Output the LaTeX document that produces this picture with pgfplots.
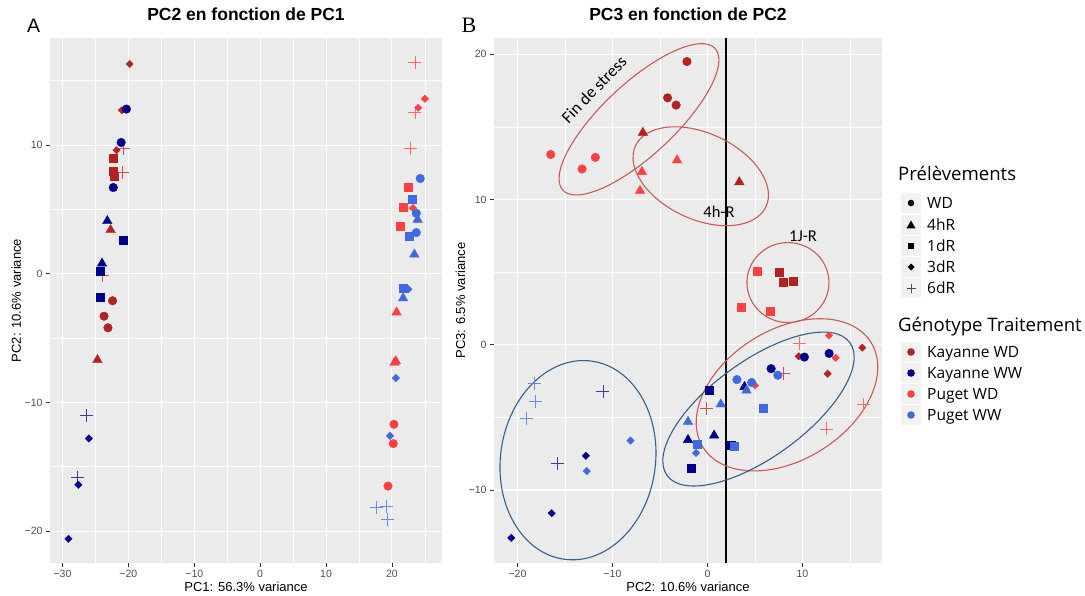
\documentclass[border=0pt]{standalone}
\usepackage{pgfplots}
\pgfplotsset{compat=1.18}
\usepackage{fontspec}
\setmainfont{Liberation Sans}
\newfontfamily\arial{Liberation Sans}
\newfontfamily\calibri{Carlito}
\newfontfamily\legfont{Open Sans}
\newfontfamily\serifB{Liberation Serif}

\definecolor{kwd}{HTML}{B22222}
\definecolor{kww}{HTML}{00008B}
\definecolor{pwd}{HTML}{FF4040}
\definecolor{pww}{HTML}{4169E1}
\definecolor{panelbg}{HTML}{EBEBEB}
\definecolor{ticktxt}{HTML}{4D4D4D}
\definecolor{tickcol}{HTML}{333333}
\definecolor{ellred}{HTML}{C85A57}
\definecolor{ellblue}{HTML}{36608C}
\definecolor{keybg}{HTML}{F2F2F2}

\pgfplotsset{
  ggpanel/.style={
    scale only axis,
    anchor=south west,
    axis background/.style={fill=panelbg},
    axis line style={draw=none},
    grid=both,
    major grid style={white, line width=1.1pt},
    minor grid style={white, line width=0.55pt},
    tick align=outside,
    tick pos=left,
    major tick length=4pt,
    minor tick length=0pt,
    every tick/.style={tickcol, line width=0.8pt},
    tick label style={font=\arial\fontsize{10.5}{12}\selectfont, text=ticktxt},
    title style={at={(rel axis cs:0.5,1.0219)}, anchor=base, font=\arial\bfseries\fontsize{17.5}{20}\selectfont},
    every axis x label/.style={at={(rel axis cs:0.5,-0.0552)}, anchor=base, font=\arial\fontsize{13}{15}\selectfont},
    only marks,
    clip=false,
  },
  c/.style={mark=*, mark size=4.3pt},
  t/.style={mark=triangle*, mark size=5.5pt},
  s/.style={mark=square*, mark size=4pt},
  d/.style={mark=square*, mark size=2.6pt, mark options={rotate=45}},
  p/.style={color=#1!75!panelbg, mark=+, mark size=6.5pt, line width=0.9pt},
}

\begin{document}
\begin{tikzpicture}
\path[use as bounding box] (0pt,0pt) rectangle (1085pt,-595pt);

% ---------------- panel A ----------------
\begin{axis}[ggpanel, at={(50pt,-563pt)}, width=392pt, height=525pt,
  xmin=-31.9, xmax=27.6, ymin=-22.48, ymax=18.32,
  xtick={-30,-20,-10,0,10,20}, xticklabels={−30,−20,−10,0,10,20},
  ytick={-20,-10,0,10}, yticklabels={−20,−10,0,10},
  minor xtick={-25,-15,-5,5,15,25}, minor ytick={-15,-5,5,15},
  title={PC2 en fonction de PC1},
  xlabel={PC1: 56.3\% variance},
  ylabel={PC2: 10.6\% variance},
  ylabel style={at={(rel axis cs:-0.074,0.5)}, anchor=base, font=\arial\fontsize{13}{15}\selectfont},
]
% Kayanne WD
\addplot[p=kwd] coordinates {(-20.7,9.7)(-20.9,7.9)(-23.9,-0.1)};
\addplot[kwd,c] coordinates {(-22.4,-2.1)(-23.7,-3.3)(-23.1,-4.2)};
\addplot[kwd,t] coordinates {(-22.7,3.4)(-24.7,-6.7)};
\addplot[kwd,s] coordinates {(-22.3,9.0)(-22.3,8.0)(-22.1,7.6)};
\addplot[kwd,d] coordinates {(-19.8,16.3)(-21.0,12.7)(-21.8,9.6)};
% Kayanne WW
\addplot[p=kww] coordinates {(-26.4,-11.0)(-27.7,-15.8)};
\addplot[kww,c] coordinates {(-20.3,12.8)(-21.1,10.2)(-22.3,6.7)};
\addplot[kww,t] coordinates {(-23.2,4.1)(-24.0,0.8)};
\addplot[kww,s] coordinates {(-20.8,2.6)(-24.3,0.2)(-24.3,-1.8)};
\addplot[kww,d] coordinates {(-26.0,-12.8)(-27.6,-16.4)(-29.1,-20.6)};
% Puget WD
\addplot[p=pwd] coordinates {(23.5,16.4)(23.5,12.5)(22.8,9.7)};
\addplot[pwd,c] coordinates {(20.3,-11.7)(20.2,-13.2)(19.4,-16.5)};
\addplot[pwd,t] coordinates {(20.7,-3.0)(20.4,-6.9)(20.6,-6.8)};
\addplot[pwd,s] coordinates {(22.4,6.7)(21.7,5.2)(21.3,3.7)};
\addplot[pwd,d] coordinates {(25.0,13.6)(24.0,12.9)(23.2,5.1)};
% Puget WW
\addplot[p=pww] coordinates {(17.6,-18.2)(19.1,-18.1)(19.3,-19.1)};
\addplot[pww,c] coordinates {(24.3,7.4)(23.7,4.7)(23.7,3.2)};
\addplot[pww,t] coordinates {(23.9,4.2)(23.4,1.5)(21.7,-1.9)};
\addplot[pww,s] coordinates {(23.0,5.8)(22.6,2.9)(21.7,-1.1)};
\addplot[pww,d] coordinates {(22.5,-1.2)(20.6,-8.1)(19.7,-12.6)};
\end{axis}

% ---------------- panel B ----------------
\begin{axis}[ggpanel, at={(494pt,-563pt)}, width=388pt, height=525pt,
  xmin=-22.47, xmax=18.37, ymin=-15.03, ymax=21.12,
  xtick={-20,-10,0,10}, xticklabels={−20,−10,0,10},
  ytick={-10,0,10,20}, yticklabels={−10,0,10,20},
  minor xtick={-15,-5,5,15}, minor ytick={-5,5,15},
  title={PC3 en fonction de PC2},
  xlabel={PC2: 10.6\% variance},
  ylabel={PC3: 6.5\% variance},
  ylabel style={at={(rel axis cs:-0.0747,0.5)}, anchor=base, font=\arial\fontsize{13}{15}\selectfont},
]
% Kayanne WD
\addplot[p=kwd] coordinates {(8.0,-2.0)(-0.1,-4.4)};
\addplot[kwd,c] coordinates {(-2.16,19.5)(-4.2,17.0)(-3.3,16.5)};
\addplot[kwd,t] coordinates {(-6.8,14.6)(3.35,11.2)};
\addplot[kwd,s] coordinates {(7.5,5.0)(8.0,4.3)(9.0,4.4)};
\addplot[kwd,d] coordinates {(16.3,-0.2)(9.6,-0.8)(12.65,-2.0)};
% Kayanne WW
\addplot[p=kww] coordinates {(-11.0,-3.2)(-15.8,-8.2)};
\addplot[kww,c] coordinates {(12.8,-0.6)(10.2,-0.85)(6.7,-1.65)};
\addplot[kww,t] coordinates {(3.9,-2.9)(0.7,-6.25)(-2.05,-6.55)};
\addplot[kww,s] coordinates {(0.2,-3.15)(2.45,-6.9)(-1.75,-8.5)};
\addplot[kww,d] coordinates {(-12.8,-7.65)(-16.4,-11.6)(-20.65,-13.3)};
% Puget WD
\addplot[p=pwd] coordinates {(9.7,0.1)(16.4,-4.1)(12.55,-5.8)};
\addplot[pwd,c] coordinates {(-16.5,13.1)(-13.2,12.1)(-11.8,12.9)};
\addplot[pwd,t] coordinates {(-3.2,12.7)(-6.9,11.9)(-7.1,10.6)};
\addplot[pwd,s] coordinates {(5.2,5.06)(3.6,2.6)(6.6,2.3)};
\addplot[pwd,d] coordinates {(12.8,0.64)(13.5,-0.9)(5.0,-2.8)};
% Puget WW
\addplot[p=pww] coordinates {(-18.2,-2.65)(-18.1,-3.9)(-19.1,-5.1)};
\addplot[pww,c] coordinates {(7.4,-2.1)(3.1,-2.4)(4.65,-2.6)};
\addplot[pww,t] coordinates {(4.1,-3.15)(1.4,-4.1)(-2.05,-5.3)};
\addplot[pww,s] coordinates {(5.85,-4.35)(-1.1,-6.85)(2.8,-7.0)};
\addplot[pww,d] coordinates {(-8.1,-6.6)(-12.7,-8.7)(-1.2,-7.45)};

% annotations
\draw[black, line width=2pt] (axis cs:2,-15.03) -- (axis cs:2,21.12);
\draw[ellred, line width=1.1pt, rotate around={43:(axis cs:-7.21,15.52)}] (axis cs:-7.21,15.52) ellipse [x radius=104pt, y radius=36pt];
\draw[ellred, line width=1.1pt, rotate around={-25:(axis cs:-0.71,11.6)}] (axis cs:-0.71,11.6) ellipse [x radius=72pt, y radius=43pt];
\draw[ellred, line width=1.1pt] (axis cs:8.47,4.28) ellipse [x radius=41pt, y radius=40pt];
\draw[ellred, line width=1.1pt, rotate around={32:(axis cs:8.37,-3.45)}] (axis cs:8.37,-3.45) ellipse [x radius=99pt, y radius=65pt];
\draw[ellblue, line width=1.1pt, rotate around={36:(axis cs:5.37,-4.43)}] (axis cs:5.37,-4.43) ellipse [x radius=113pt, y radius=48pt];
\draw[ellblue, line width=1.1pt, rotate around={82:(axis cs:-13.63,-7.95)}] (axis cs:-13.63,-7.95) ellipse [x radius=100pt, y radius=77.5pt];
\node[font=\calibri\fontsize{17}{20}\selectfont, rotate=46] at (axis cs:-11.95,17.59) {Fin de stress};
\node[font=\calibri\fontsize{16.5}{20}\selectfont] at (axis cs:1.21,9.17) {4h-R};
\node[font=\calibri\fontsize{16.5}{20}\selectfont] at (axis cs:10.05,7.45) {1J-R};
\end{axis}

% panel letters
\node[font=\arial\fontsize{19.5}{22}\selectfont] at (33.7pt,-25.3pt) {A};
\node[font=\serifB\fontsize{22}{24}\selectfont] at (469pt,-25pt) {B};

% legend
\begin{scope}[x=1pt,y=-1pt]
\node[anchor=base west, inner sep=0pt, font=\legfont\fontsize{18.6}{22}\selectfont] at (898,180) {Prélèvements};
\foreach \yy in {203,224.5,246,267,288}{\fill[keybg] (901,\yy-10) rectangle (921,\yy+10);}
\fill[black] (911,203) circle (3.3pt);
\fill[black] (911,220.5) -- (915.5,228.3) -- (906.5,228.3) -- cycle;
\fill[black] (908,243) rectangle (914,249);
\fill[black] (911,263.5) -- (914.5,267) -- (911,270.5) -- (907.5,267) -- cycle;
\draw[black!70, line width=0.6pt] (906.5,288) -- (915.5,288) (911,283.5) -- (911,292.5);
\foreach \yy/\tt in {203/WD,224.5/4hR,246/1dR,267/3dR,288/6dR}{
  \node[anchor=base west, inner sep=0pt, font=\legfont\fontsize{15.5}{18}\selectfont] at (927,\yy+5.5) {\tt};}
\node[anchor=base west, inner sep=0pt, font=\legfont\fontsize{18.6}{22}\selectfont] at (898,331.7) {Génotype Traitement};
\foreach \yy/\cc/\tt in {352/kwd/Kayanne WD,373/kww/Kayanne WW,394/pwd/Puget WD,415/pww/Puget WW}{
  \fill[keybg] (901,\yy-10) rectangle (921,\yy+10);
  \fill[\cc] (911,\yy) circle (3.8pt);
  \node[anchor=base west, inner sep=0pt, font=\legfont\fontsize{15.5}{18}\selectfont] at (927,\yy+5.5) {\tt};}
\end{scope}
\end{tikzpicture}
\end{document}
